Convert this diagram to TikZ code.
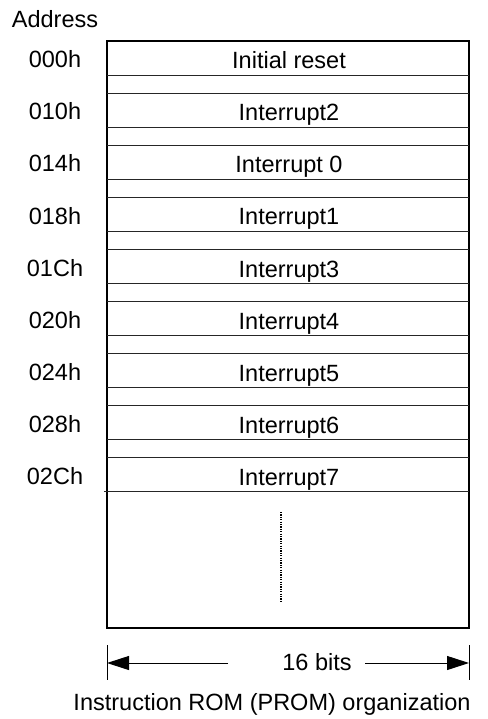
\documentclass[tikz,border=0pt]{standalone}
\usepackage{fontspec}
\setmainfont{Liberation Sans}
\usetikzlibrary{arrows.meta}
\begin{document}
\begin{tikzpicture}[x=1pt,y=-1pt,
  txt/.style={inner sep=0pt,anchor=base,font=\fontsize{23.5}{28}\selectfont},
  divider/.style={line width=0.9pt,draw=black!85},
  dimline/.style={line width=1pt,-{Triangle[length=22pt,width=14pt]}}]
\useasboundingbox (0,0) rectangle (487,719);
% outer box
\draw[line width=1.3pt] (107,41) rectangle (469,628);
\node[txt] (addr) at (55,28) {Address};
% rows
\foreach \k/\lab/\txt in {0/000h/Initial reset,1/010h/Interrupt2,2/014h/Interrupt 0,3/018h/Interrupt1,4/01Ch/Interrupt3,5/020h/Interrupt4,6/024h/Interrupt5,7/028h/Interrupt6,8/02Ch/Interrupt7}{
  \pgfmathsetmacro{\top}{41+52*\k}
  \pgfmathsetmacro{\bot}{75+52*\k}
  \pgfmathsetmacro{\tb}{69+52*\k}
  \pgfmathsetmacro{\ab}{68+52*\k}
  \node[txt] (r\k) at (289,\tb) {\txt};
  \node[txt] (a\k) at (55,\ab) {\lab};
  \ifnum\k>0 \draw[divider] (107,\top) -- (469,\top); \fi
  \ifnum\k<8 \draw[divider] (107,\bot) -- (469,\bot); \fi
}
\draw[divider] (104,491) -- (469,491);
% dotted continuation
\coordinate (d1) at (281,512);
\coordinate (d2) at (281,603);
\draw[line width=1.2pt,dash pattern=on 1.2pt off 1.2pt] (d1) -- (d2);
% dimension
\coordinate (tl1) at (107,645);
\coordinate (tl2) at (107,680);
\coordinate (tr1) at (469,645);
\coordinate (tr2) at (469,680);
\draw[line width=1pt] (tl1) -- (tl2);
\draw[line width=1pt] (tr1) -- (tr2);
\node[txt] (bits) at (317,670) {16 bits};
\coordinate (al) at (107,663);
\coordinate (ar) at (469,663);
\coordinate (als) at (228,663);
\coordinate (ars) at (365,663);
\draw[dimline] (als) -- (al);
\draw[dimline] (ars) -- (ar);
\node[txt] (cap) at (272,710) {Instruction ROM (PROM) organization};
\end{tikzpicture}
\end{document}
